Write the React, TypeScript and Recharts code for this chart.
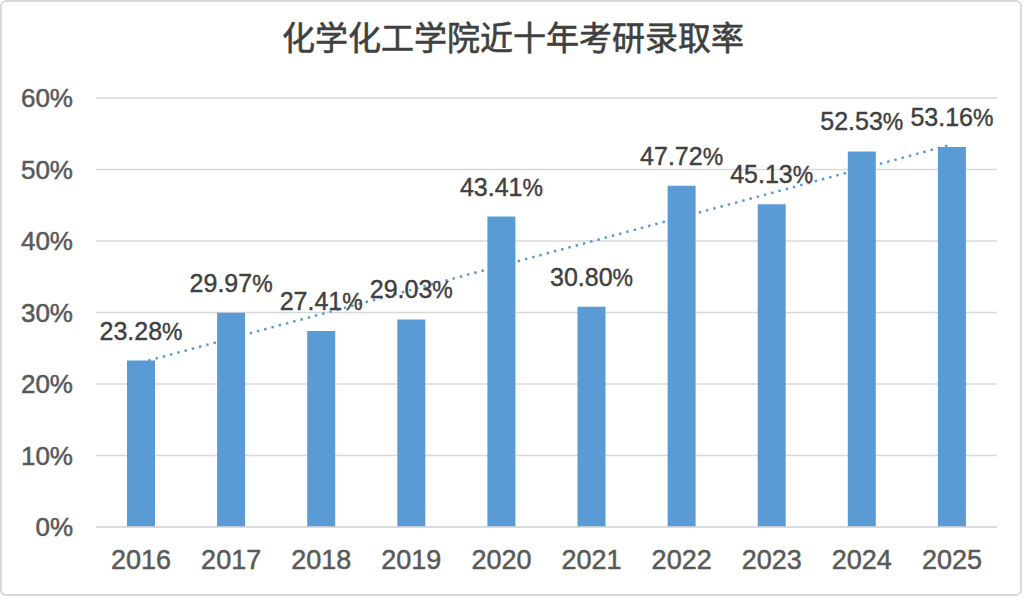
import React from "react";
import { ComposedChart, Bar, Line, XAxis, YAxis, CartesianGrid, LabelList } from "recharts";

const years = ["2016", "2017", "2018", "2019", "2020", "2021", "2022", "2023", "2024", "2025"];
const rates = [23.28, 29.97, 27.41, 29.03, 43.41, 30.8, 47.72, 45.13, 52.53, 53.16];
// linear trendline end points
const trend = [23.0, null, null, null, null, null, null, null, null, 53.5];
const yTicks = [0, 10, 20, 30, 40, 50, 60];

const data = years.map((y, i) => ({ year: y, rate: rates[i], trend: trend[i] }));

const BLUE = "#5B9BD5";
const FONT = "'Liberation Sans', Arial, sans-serif";

const ValueLabel = (props: any) => {
  const { x, y, width, value } = props;
  const cx = x + width / 2;
  return (
    <text
      x={cx}
      y={y - 21}
      textAnchor="middle"
      fill="#404040"
      stroke="#404040"
      strokeWidth={0.4}
      fontFamily={FONT}
      fontSize={25}
    >
      {Number(value).toFixed(2)}
      <tspan fontSize={23}>%</tspan>
    </text>
  );
};

export default function App() {
  return (
    <div
      style={{
        position: "absolute",
        left: 0,
        top: 0,
        width: 1024,
        height: 598,
        background: "#fff",
      }}
    >
      <div
        style={{
          position: "absolute",
          left: 0,
          top: 0,
          width: 1022,
          height: 596,
          border: "2px solid #d9d9d9",
          borderRadius: 6,
          boxSizing: "border-box",
          pointerEvents: "none",
        }}
      />
      <div
        style={{
          position: "absolute",
          left: 0,
          top: 14,
          width: 1026,
          textAlign: "center",
          fontFamily: "'Noto Sans CJK SC', sans-serif",
          fontSize: 33,
          lineHeight: "44px",
          color: "#404040",
          WebkitTextStroke: "0.6px #404040",
        }}
      >
        化学化工学院近十年考研录取率
      </div>
      <div style={{ position: "absolute", left: 0, top: 0 }}>
        <ComposedChart
          width={1024}
          height={598}
          data={data}
          margin={{ top: 98, right: 27, bottom: 0, left: 0 }}
        >
          <CartesianGrid vertical={false} stroke="#d9d9d9" strokeWidth={1.5} />
          <XAxis
            dataKey="year"
            axisLine={{ stroke: "#d9d9d9", strokeWidth: 1.5 }}
            tickLine={false}
            tickSize={0}
            tickMargin={23}
            height={71}
            tick={{ fill: "#595959", stroke: "#595959", strokeWidth: 0.5, fontSize: 27, fontFamily: FONT }}
          />
          <YAxis
            domain={[0, 60]}
            ticks={yTicks}
            tickFormatter={(v: number) => `${v}%`}
            axisLine={false}
            tickLine={false}
            tickSize={0}
            tickMargin={23}
            width={96}
            tick={{ fill: "#595959", stroke: "#595959", strokeWidth: 0.5, fontSize: 26, fontFamily: FONT }}
          />
          <Bar dataKey="rate" fill={BLUE} barSize={28} isAnimationActive={false}>
            <LabelList dataKey="rate" content={ValueLabel} />
          </Bar>
          <Line
            dataKey="trend"
            connectNulls
            dot={false}
            activeDot={false}
            stroke={BLUE}
            strokeWidth={2.5}
            strokeDasharray="2.5 5"
            isAnimationActive={false}
          />
        </ComposedChart>
      </div>
    </div>
  );
}
